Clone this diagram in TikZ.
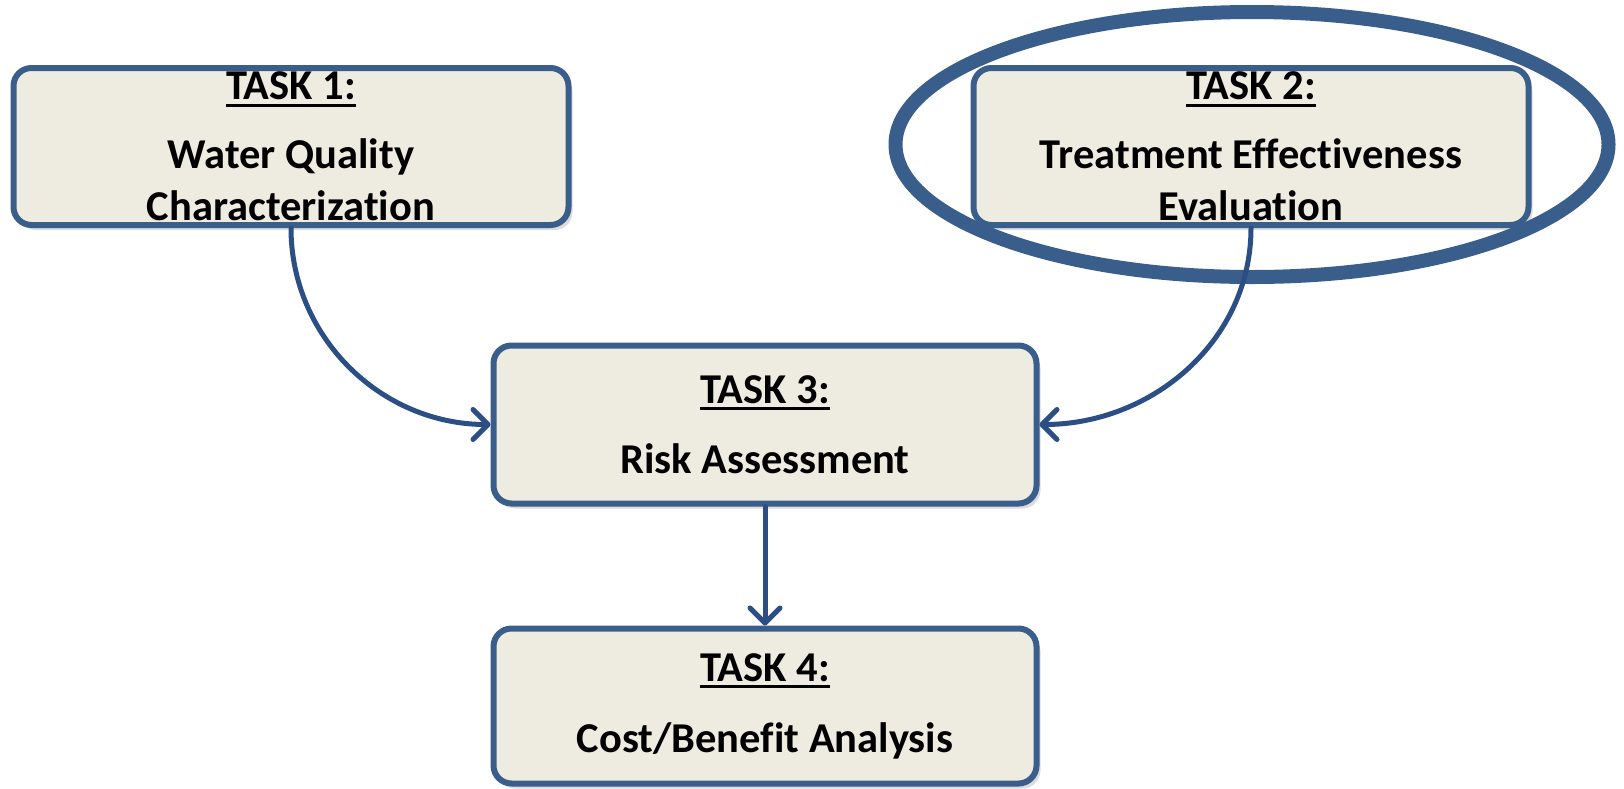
\documentclass[tikz,border=0pt]{standalone}
\usepackage{fontspec}
\setmainfont{Carlito}[Ligatures={NoCommon,NoContextual}]
\usetikzlibrary{arrows.meta,shadows,shapes.geometric}
\definecolor{boxfill}{HTML}{EEECE1}
\definecolor{boxline}{HTML}{3A5E8C}
\definecolor{arrowc}{HTML}{2B4F84}
\newcommand\tasklbl[1]{\setbox0\hbox{#1}\rlap{\rule[-7pt]{\wd0}{3pt}}\box0}
\begin{document}
\begin{tikzpicture}[x=1pt,y=1pt,
  taskbox/.style={draw=boxline, line width=6pt, fill=boxfill, rounded corners=18pt,
    align=center, inner sep=0pt, font=\fontsize{42.5}{52}\selectfont\bfseries,
    drop shadow={opacity=0.28, shadow xshift=4pt, shadow yshift=-5pt}},
  conn/.style={draw=arrowc, line width=5pt, line cap=round,
    -{Straight Barb[length=15pt,width=30pt,round]}},
  hilite/.style={draw=boxline, line width=14pt, ellipse, inner sep=0pt}]
\useasboundingbox (0,0) rectangle (1624,-788);
\node[taskbox, minimum width=555pt, minimum height=157pt] (t1) at (291,-146.5)
  {\tasklbl{TASK 1:}\\[17pt]Water Quality\\Characterization};
\node[taskbox, minimum width=555pt, minimum height=157pt] (t2) at (1251,-146.5)
  {\tasklbl{TASK 2:}\\[17pt]Treatment Effectiveness\\Evaluation};
\node[taskbox, minimum width=543pt, minimum height=158pt] (t3) at (765,-424.5)
  {\tasklbl{TASK 3:}\\[18pt]Risk Assessment};
\node[taskbox, minimum width=543pt, minimum height=155pt] (t4) at (765,-706)
  {\tasklbl{TASK 4:}\\[19pt]Cost/Benefit Analysis};
\node[hilite, minimum width=713pt, minimum height=265pt] (hl) at (1252,-144.5) {};
\draw[conn] (t1.south) to[out=-90,in=180] (t3.west);
\draw[conn] (t2.south) to[out=-90,in=0] (t3.east);
\draw[conn] (t3.south) -- (t4.north);
\end{tikzpicture}
\end{document}
